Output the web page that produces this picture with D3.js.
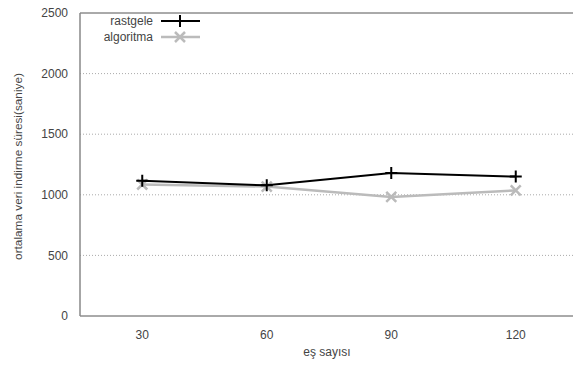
<!DOCTYPE html>
<html>
<head>
<meta charset="utf-8">
<script src="https://cdn.jsdelivr.net/npm/d3@7"></script>
<style>
  body { margin: 0; background: #fff; }
  text { font-family: "Liberation Sans", Arial, sans-serif; }
</style>
</head>
<body>
<div id="chart"></div>
<script>
const categories = ["30", "60", "90", "120"];
const rastgele = [1115, 1078, 1179, 1150];
const algoritma = [1085, 1068, 982, 1036];
const yTicks = [0, 500, 1000, 1500, 2000, 2500];
const seriesNames = ["rastgele", "algoritma"];
const seriesColors = ["#000000", "#bbbbbb"];

const W = 573, H = 365;
const margin = { top: 13, right: -5, bottom: 49, left: 80 };
const width = W - margin.left - margin.right;
const height = H - margin.top - margin.bottom;
const fs = 12;

const svg = d3.select("#chart").append("svg")
  .attr("width", W).attr("height", H);
const g = svg.append("g").attr("transform", `translate(${margin.left},${margin.top})`);

const x = d3.scalePoint().domain(categories).range([0, width]).padding(0.5);
const y = d3.scaleLinear().domain([0, 2500]).range([height, 0]);

// grid
g.selectAll(".grid").data(yTicks.filter(d => d > 0 && d < 2500)).enter()
  .append("line")
  .attr("x1", 0).attr("x2", width)
  .attr("y1", d => y(d)).attr("y2", d => y(d))
  .attr("stroke", "#aaa").attr("stroke-width", 1)
  .attr("stroke-dasharray", "1,2");

// frame lines
g.append("line").attr("x1", 0).attr("x2", width).attr("y1", 0).attr("y2", 0)
  .attr("stroke", "#555").attr("stroke-width", 1);
g.append("line").attr("x1", 0).attr("x2", width).attr("y1", height).attr("y2", height)
  .attr("stroke", "#555").attr("stroke-width", 1);
g.append("line").attr("x1", 0).attr("x2", 0).attr("y1", 0).attr("y2", height)
  .attr("stroke", "#888").attr("stroke-width", 1.5);

// y tick labels
g.selectAll(".ylab").data(yTicks).enter().append("text")
  .attr("x", -12).attr("y", d => y(d)).attr("dy", "0.35em")
  .attr("text-anchor", "end").attr("font-size", fs).attr("fill", "#444")
  .text(d => d);

// x tick labels
g.selectAll(".xlab").data(categories).enter().append("text")
  .attr("x", d => x(d)).attr("y", height + 23)
  .attr("text-anchor", "middle").attr("font-size", fs).attr("fill", "#444")
  .text(d => d);

// axis titles
g.append("text").attr("x", width / 2 - 2).attr("y", height + 40)
  .attr("text-anchor", "middle").attr("font-size", fs).attr("fill", "#444")
  .text("eş sayısı");
svg.append("text")
  .attr("transform", `translate(22,${margin.top + height / 2 + 2}) rotate(-90)`)
  .attr("text-anchor", "middle").attr("font-size", 11.8).attr("fill", "#444")
  .text("ortalama veri indirme süresi(saniye)");

const line = d3.line().x((d, i) => x(categories[i])).y(d => y(d));

function plus(sel, cx, cy, c) {
  sel.append("path").attr("d", `M${cx - 6},${cy}H${cx + 6}M${cx},${cy - 6}V${cy + 6}`)
    .attr("stroke", c).attr("stroke-width", 2).attr("fill", "none");
}
function cross(sel, cx, cy, c) {
  sel.append("path").attr("d", `M${cx - 5},${cy - 5}L${cx + 5},${cy + 5}M${cx - 5},${cy + 5}L${cx + 5},${cy - 5}`)
    .attr("stroke", c).attr("stroke-width", 2.5).attr("fill", "none");
}

// algoritma first (under), then rastgele
g.append("path").datum(algoritma).attr("d", line)
  .attr("fill", "none").attr("stroke", seriesColors[1]).attr("stroke-width", 2.5);
algoritma.forEach((v, i) => cross(g, x(categories[i]), y(v), seriesColors[1]));

g.append("path").datum(rastgele).attr("d", line)
  .attr("fill", "none").attr("stroke", seriesColors[0]).attr("stroke-width", 2);
rastgele.forEach((v, i) => plus(g, x(categories[i]), y(v), seriesColors[0]));

// legend
const markers = [plus, cross];
seriesNames.forEach((name, i) => {
  const ly = 21 + i * 16;
  svg.append("text").attr("x", 153).attr("y", ly).attr("dy", "0.35em")
    .attr("text-anchor", "end").attr("font-size", fs).attr("fill", "#444")
    .text(name);
  svg.append("line").attr("x1", 161).attr("x2", 200).attr("y1", ly).attr("y2", ly)
    .attr("stroke", seriesColors[i]).attr("stroke-width", i === 0 ? 2 : 2.5);
  markers[i](svg, 180, ly, seriesColors[i]);
});
</script>
</body>
</html>
